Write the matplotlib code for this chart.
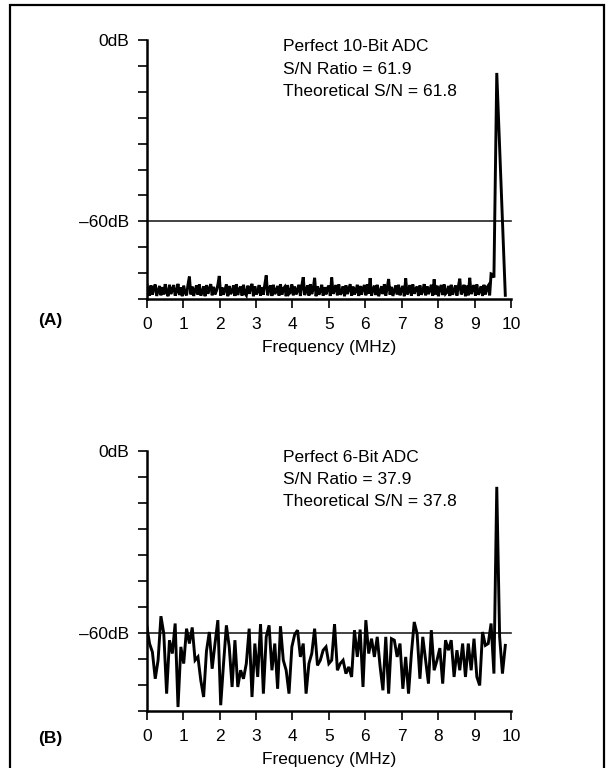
import matplotlib
matplotlib.use("Agg")
import matplotlib.pyplot as plt
from matplotlib.patches import Rectangle
import numpy as np

plt.rcParams['font.family'] = ['Liberation Sans', 'DejaVu Sans']

# panel A : perfect 10-bit ADC, spectrum in dB, bins of 10/256 MHz
bin_a = 10 / 256
spec_a = [
    -80.5, -83.2, -84.6, -81.2, -84.3, -82.1, -80.9, -84.7, -83.0, -81.4, -84.5, -81.8,
    -84.2, -80.8, -83.5, -84.8, -81.0, -84.1, -82.4, -81.1, -84.6, -83.1, -80.7, -84.4,
    -81.9, -84.8, -81.3, -83.7, -84.5, -81.0, -78.3, -84.2, -81.6, -84.7, -82.8, -81.2,
    -84.3, -80.9, -84.6, -83.4, -81.5, -84.8, -81.1, -84.0, -82.2, -80.8, -84.5, -81.7,
    -84.2, -83.0, -81.0, -78.1, -84.6, -81.9, -84.3, -82.7, -80.9, -84.8, -81.4, -84.1,
    -83.2, -81.2, -84.7, -80.8, -84.4, -82.5, -81.6, -84.6, -81.0, -83.8, -84.5, -81.3,
    -84.0, -82.0, -80.7, -84.8, -81.5, -84.2, -83.3, -81.1, -84.6, -81.8, -84.3, -80.9,
    -77.9, -84.5, -82.6, -81.2, -84.7, -81.0, -84.1, -83.0, -81.4, -84.6, -80.8, -84.3,
    -82.3, -81.7, -84.8, -81.1, -84.0, -83.5, -80.9, -84.5, -81.6, -84.2, -82.8, -81.0,
    -84.7, -81.3, -78.5, -84.4, -83.1, -81.2, -84.6, -80.8, -84.1, -82.4, -78.7, -84.8,
    -81.5, -84.3, -83.0, -81.0, -84.6, -81.8, -84.2, -82.1, -81.3, -84.7, -78.6, -84.0,
    -82.9, -81.1, -84.5, -80.9, -84.3, -83.4, -81.5, -84.8, -81.2, -84.1, -82.5, -80.8,
    -84.6, -81.6, -84.2, -83.1, -81.0, -84.7, -81.4, -84.3, -82.2, -81.1, -84.5, -80.9,
    -84.0, -78.8, -84.6, -82.7, -81.3, -84.4, -81.0, -84.8, -83.2, -81.5, -84.1, -80.8,
    -84.6, -82.0, -79.1, -84.3, -81.7, -84.7, -83.0, -81.2, -84.2, -81.0, -84.5, -82.6,
    -81.4, -84.8, -78.9, -84.2, -83.3, -81.1, -84.6, -80.9, -84.0, -82.4, -81.6, -84.7,
    -81.2, -84.3, -83.0, -80.8, -84.5, -81.5, -84.1, -82.8, -81.0, -84.6, -79.2, -84.2,
    -81.3, -84.8, -82.3, -81.1, -84.4, -80.9, -84.0, -83.5, -81.4, -84.7, -81.0, -84.3,
    -82.7, -81.2, -84.6, -81.6, -79.0, -84.2, -83.1, -81.0, -84.8, -81.3, -84.5, -78.7,
    -84.1, -82.5, -81.1, -84.6, -80.9, -84.3, -83.2, -81.5, -84.7, -81.0, -84.2, -82.0,
    -81.3, -84.5, -77.4, -77.6, -78.6, -44.7, -10.9, -23.2, -35.6, -47.9, -60.3, -72.6,
    -84.5,
]

# panel B : perfect 6-bit ADC, spectrum in dB, bins of 10/128 MHz
bin_b = 10 / 128
spec_b = [
    -57.5, -63.5, -66.3, -75.1, -69.0, -54.5, -60.2, -80.0, -62.4, -66.8,
    -56.9, -84.4, -64.6, -70.1, -58.6, -63.5, -58.2, -69.0, -67.9, -75.6,
    -81.1, -66.0, -59.7, -71.8, -63.5, -55.8, -83.8, -70.1, -57.5, -64.6,
    -77.8, -62.4, -77.8, -72.3, -75.1, -70.1, -58.6, -81.1, -63.5, -74.5,
    -57.1, -80.0, -61.3, -57.5, -72.3, -63.5, -78.4, -57.8, -69.0, -72.3,
    -80.0, -64.6, -60.5, -59.1, -67.9, -63.5, -80.0, -70.1, -66.8, -58.6,
    -70.7, -69.0, -65.7, -64.6, -70.1, -69.0, -57.1, -72.3, -70.1, -69.0,
    -73.4, -71.2, -74.5, -59.1, -67.9, -58.9, -77.8, -55.8, -66.8, -61.9,
    -67.9, -61.3, -71.0, -78.9, -61.3, -80.0, -61.9, -62.4, -67.9, -63.5,
    -78.4, -67.9, -80.0, -66.8, -56.4, -60.2, -75.1, -61.3, -69.0, -76.7,
    -59.1, -72.3, -69.0, -65.0, -76.7, -62.4, -65.7, -62.4, -74.5, -65.7,
    -72.3, -63.5, -74.5, -63.5, -72.3, -61.9, -74.5, -77.3, -59.7, -64.1,
    -63.5, -56.9, -73.4, -11.9, -61.3, -73.4, -64.1,
]

freq_ticks = list(range(11))
notes_a = ["Perfect 10-Bit ADC", "S/N Ratio = 61.9", "Theoretical S/N = 61.8"]
notes_b = ["Perfect 6-Bit ADC", "S/N Ratio = 37.9", "Theoretical S/N = 37.8"]

W, H = 613, 768
fig = plt.figure(figsize=(W / 100, H / 100), dpi=100)

div = 60 / 7          # dB per y tick (0dB at top, -60dB at 7th tick)
ymin = -10 * div


def px(x, y):
    return x / W, 1 - y / H


def panel(top, bottom, spec, step, notes, tag, tag_y):
    left, right = 146.7, 511.0
    ax = fig.add_axes([left / W, 1 - bottom / H, (right - left) / W, (bottom - top) / H])
    f = np.arange(len(spec)) * step
    ax.plot(f, spec, color='black', lw=2.1, solid_joinstyle='miter', zorder=3)
    ax.axhline(-60, color='#222222', lw=1.2, zorder=2, clip_on=False)
    ax.set_xlim(0, 10)
    ax.set_ylim(ymin, 0)
    for s in ['top', 'right']:
        ax.spines[s].set_visible(False)
    for s in ['left', 'bottom']:
        ax.spines[s].set_linewidth(1.8)
    yt = [-i * div for i in range(11)]
    ax.set_yticks(yt)
    ax.set_yticklabels(['0dB'] + [''] * 6 + ['\u201360dB'] + [''] * 3)
    ax.set_xticks(freq_ticks)
    ax.set_xticklabels([str(t) for t in freq_ticks])
    ax.tick_params(axis='both', direction='out', length=6.5, width=1.2,
                   labelsize=12.5, pad=6.5)
    ax.set_xlabel('Frequency (MHz)', fontsize=12.5, labelpad=6)
    ax.patch.set_alpha(0)

    ys = [top + 6.7, top + 29, top + 51.3]
    for t, y in zip(notes, ys):
        fig.text(*px(283, y), t, fontsize=12.5, va='center', ha='left')
    fig.text(*px(50, tag_y), tag, fontsize=12.5, fontweight='bold',
             va='center', ha='center')
    return ax


panel(40.0, 299.0, spec_a, bin_a, notes_a, '(A)', 321)
panel(450.7, 711.0, spec_b, bin_b, notes_b, '(B)', 738)

# outer frame
fig.patches.append(Rectangle(px(9.5, 790), (603.5 - 9.5) / W, (790 - 5) / H,
                             transform=fig.transFigure, fill=False,
                             edgecolor='black', lw=1.6, clip_on=False))

fig.savefig('out.png', dpi=100, facecolor='white')
